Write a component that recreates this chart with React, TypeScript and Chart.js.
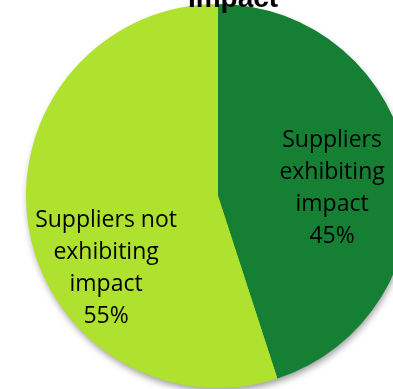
import React, { useEffect, useRef } from "react";
import { Chart, registerables } from "chart.js";

Chart.register(...registerables);

const titleText = "Impact";
const categories = ["Suppliers exhibiting impact", "Suppliers not exhibiting impact"];
const values = [45, 55];
const labelLines = [
  ["Suppliers", "exhibiting", "impact"],
  ["Suppliers not", "exhibiting", "impact"],
];
const colors = ["#157F33", "#AEE22F"];

// label anchor (first baseline) relative to pie centre, in radius units
const labelAnchors = [
  [0.594, -0.255],
  [-0.583, 0.161],
];

const shadowPlugin = {
  id: "pieShadow",
  beforeDatasetsDraw(chart: any) {
    const meta = chart.getDatasetMeta(0);
    const arc = meta.data[0];
    if (!arc) return;
    const { x, y, outerRadius } = arc.getProps(["x", "y", "outerRadius"], true);
    const ctx = chart.ctx;
    ctx.save();
    ctx.shadowColor = "rgba(0,0,0,0.4)";
    ctx.shadowBlur = 7;
    ctx.shadowOffsetX = 1;
    ctx.shadowOffsetY = 4;
    ctx.fillStyle = "#AEE22F";
    ctx.beginPath();
    ctx.arc(x, y, outerRadius - 1, 0, Math.PI * 2);
    ctx.fill();
    ctx.restore();
  },
};

const labelPlugin = {
  id: "sliceLabels",
  afterDatasetsDraw(chart: any) {
    const meta = chart.getDatasetMeta(0);
    const ctx = chart.ctx;
    const total = values.reduce((a, b) => a + b, 0);
    ctx.save();
    ctx.fillStyle = "#000";
    ctx.textAlign = "center";
    ctx.textBaseline = "alphabetic";
    ctx.font = "23px 'Open Sans'";
    meta.data.forEach((arc: any, i: number) => {
      const { x, y, outerRadius } = arc.getProps(["x", "y", "outerRadius"], true);
      const ax = x + labelAnchors[i][0] * outerRadius;
      const ay = y + labelAnchors[i][1] * outerRadius;
      const lines = [...labelLines[i], Math.round((values[i] / total) * 100) + "%"];
      lines.forEach((t, k) => ctx.fillText(t, ax, ay + k * 32));
    });
    ctx.restore();
  },
};

const titlePlugin = {
  id: "cutTitle",
  afterDraw(chart: any) {
    const ctx = chart.ctx;
    const meta = chart.getDatasetMeta(0);
    const arc = meta.data[0];
    const cx = arc ? arc.x : 218;
    ctx.save();
    ctx.fillStyle = "#000";
    ctx.font = "bold 28px 'Liberation Sans'";
    ctx.textAlign = "center";
    ctx.textBaseline = "alphabetic";
    ctx.fillText(titleText, cx + 15, 7);
    ctx.restore();
  },
};

export default function App() {
  const ref = useRef<HTMLCanvasElement>(null);
  useEffect(() => {
    if (!ref.current) return;
    const chart = new Chart(ref.current, {
      type: "pie",
      data: {
        labels: categories,
        datasets: [
          {
            data: values,
            backgroundColor: colors,
            borderWidth: 0,
          },
        ],
      },
      options: {
        responsive: false,
        animation: false,
        devicePixelRatio: 1,
        layout: { padding: { left: 26, top: 4, right: 30, bottom: 1 } },
        plugins: {
          legend: { display: false },
          tooltip: { enabled: false },
          title: { display: false },
        },
      },
      plugins: [shadowPlugin, labelPlugin, titlePlugin],
    });
    return () => chart.destroy();
  }, []);
  return (
    <div
      style={{
        position: "fixed",
        left: 0,
        top: 0,
        width: 393,
        height: 389,
        overflow: "hidden",
        background: "#fff",
      }}
    >
      <canvas ref={ref} width={440} height={389} style={{ display: "block", width: 440, height: 389 }} />
    </div>
  );
}
